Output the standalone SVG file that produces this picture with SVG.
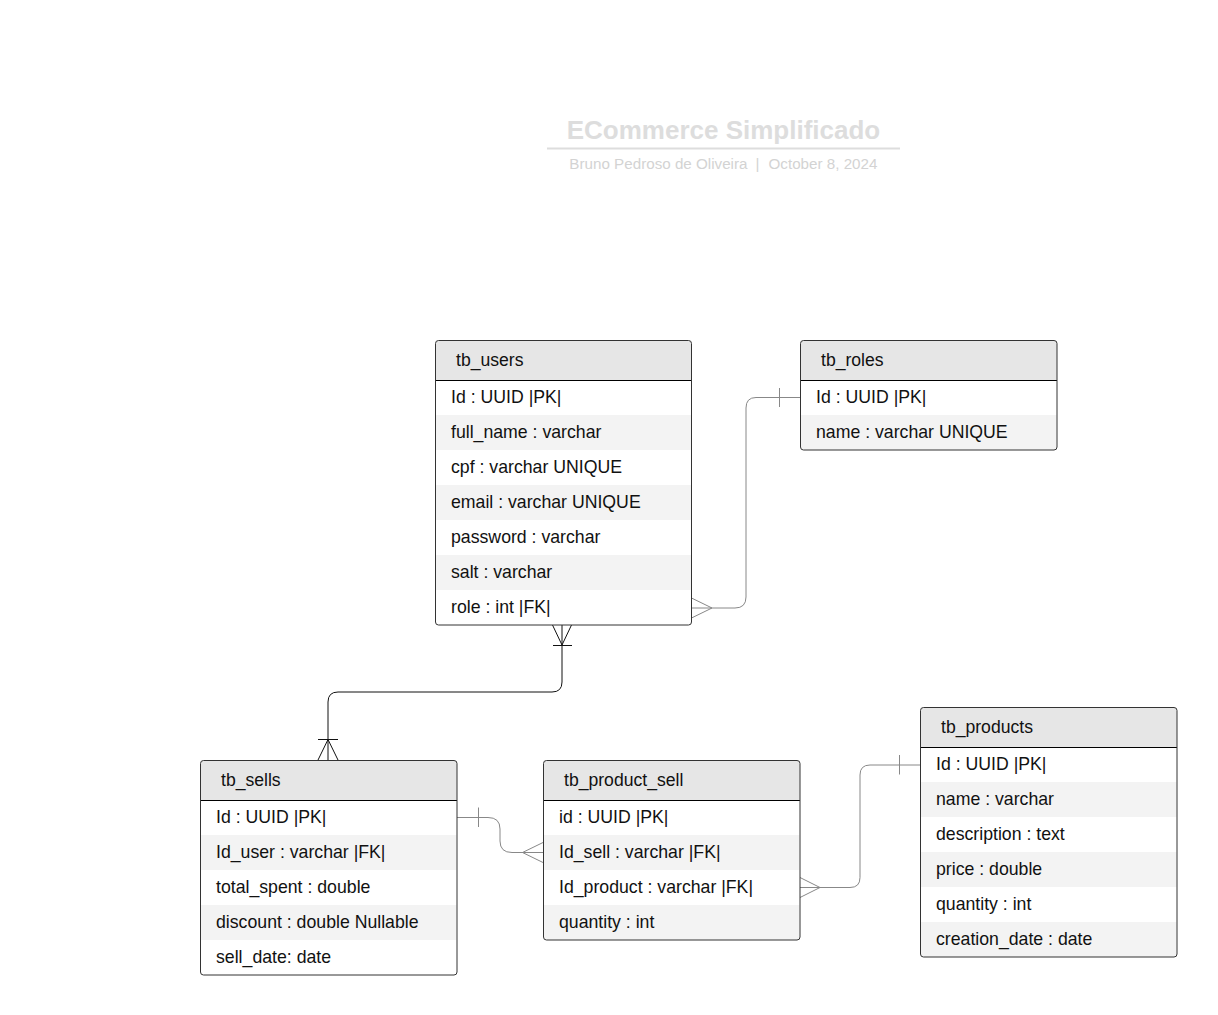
<svg xmlns="http://www.w3.org/2000/svg" width="1218" height="1015" viewBox="0 0 1218 1015">
<style>
.bg{fill:#ffffff}
.hd{fill:#e6e6e6}
.alt{fill:#f3f3f3}
.border{fill:none;stroke:#333333;stroke-width:1}
.hline{stroke:#000000;stroke-width:1}
.ht{font-family:"Liberation Sans",Arial,sans-serif;font-size:17.6px;fill:#111111}
.rt{font-family:"Liberation Sans",Arial,sans-serif;font-size:17.7px;fill:#111111}
.title{font-family:"Liberation Sans",Arial,sans-serif;font-size:26px;font-weight:bold;fill:#dddddd}
.sub{font-family:"Liberation Sans",Arial,sans-serif;font-size:15.2px;fill:#d3d3d3}
.conn{fill:none;stroke:#888888;stroke-width:1}
.connd{fill:none;stroke:#111111;stroke-width:1}
</style>
<rect x="0" y="0" width="1218" height="1015" fill="#ffffff"/>
<g id="title">
<text class="title" x="723.5" y="139" text-anchor="middle">ECommerce Simplificado</text>
<path d="M547,148.5 H900" stroke="#dddddd" stroke-width="2"/>
<text class="sub" x="747.5" y="169" text-anchor="end">Bruno Pedroso de Oliveira</text>
<text class="sub" x="757.5" y="169" text-anchor="middle">|</text>
<text class="sub" x="768.5" y="169">October 8, 2024</text>
</g>

<g id="connectors">
<!-- users.role -> roles.Id -->
<path class="conn" d="M691.5,608 H735 Q746,608 746,597 V408 Q746,397.5 756,397.5 H800.5"/>
<path class="conn" d="M691.5,598 L712,608 L691.5,618"/>
<path class="conn" d="M779.5,388 V407"/>
<!-- users -> sells -->
<path class="connd" d="M562,625 V682 Q562,692 552,692 H338 Q328,692 328,702 V760"/>
<path class="connd" d="M552.5,625 L562,645 L571.5,625"/>
<path class="connd" d="M553,645.5 H572"/>
<path class="connd" d="M318,760 L328,739.5 L338,760"/>
<path class="connd" d="M318,739.5 H338"/>
<!-- sells.Id -> product_sell.Id_sell -->
<path class="conn" d="M457,817.5 H488 Q500,817.5 500,829 V841 Q500,852.5 512,852.5 H543"/>
<path class="conn" d="M478.5,807.5 V827"/>
<path class="conn" d="M543,842.5 L522.5,852.5 L543,862.5"/>
<!-- product_sell.Id_product -> products.Id -->
<path class="conn" d="M800,887.5 H850 Q860,887.5 860,877.5 V775 Q860,765 870,765 H920.5"/>
<path class="conn" d="M899.5,755 V774.5"/>
<path class="conn" d="M800,877.5 L820,887.5 L800,897.5"/>
</g>

<g id="tb_users">
<rect class="bg" x="435.5" y="340.5" width="256" height="284.5" rx="3"/>
<path class="hd" d="M435.5,380.5 V343.5 Q435.5,340.5 438.5,340.5 H688.5 Q691.5,340.5 691.5,343.5 V380.5 Z"/>
<rect class="alt" x="436" y="415" width="255" height="35"/>
<rect class="alt" x="436" y="485" width="255" height="35"/>
<rect class="alt" x="436" y="555" width="255" height="35"/>
<path class="hline" d="M435.5,380.5 H691.5"/>
<rect class="border" x="435.5" y="340.5" width="256" height="284.5" rx="3"/>
<text class="ht" x="456" y="366">tb_users</text>
<text class="rt" x="451" y="402.5">Id : UUID |PK|</text>
<text class="rt" x="451" y="437.5">full_name : varchar</text>
<text class="rt" x="451" y="472.5">cpf : varchar UNIQUE</text>
<text class="rt" x="451" y="507.5">email : varchar UNIQUE</text>
<text class="rt" x="451" y="542.5">password : varchar</text>
<text class="rt" x="451" y="577.5">salt : varchar</text>
<text class="rt" x="451" y="612.5">role : int |FK|</text>
</g>

<g id="tb_roles">
<rect class="bg" x="800.5" y="340.5" width="256.5" height="109.5" rx="3"/>
<path class="hd" d="M800.5,380.5 V343.5 Q800.5,340.5 803.5,340.5 H1054 Q1057,340.5 1057,343.5 V380.5 Z"/>
<rect class="alt" x="801" y="415" width="255.5" height="35"/>
<path class="hline" d="M800.5,380.5 H1057"/>
<rect class="border" x="800.5" y="340.5" width="256.5" height="109.5" rx="3"/>
<text class="ht" x="821" y="366">tb_roles</text>
<text class="rt" x="816" y="402.5">Id : UUID |PK|</text>
<text class="rt" x="816" y="437.5">name : varchar UNIQUE</text>
</g>

<g id="tb_sells">
<rect class="bg" x="200.5" y="760.5" width="256.5" height="214.5" rx="3"/>
<path class="hd" d="M200.5,800.5 V763.5 Q200.5,760.5 203.5,760.5 H454 Q457,760.5 457,763.5 V800.5 Z"/>
<rect class="alt" x="201" y="835" width="255.5" height="35"/>
<rect class="alt" x="201" y="905" width="255.5" height="35"/>
<path class="hline" d="M200.5,800.5 H457"/>
<rect class="border" x="200.5" y="760.5" width="256.5" height="214.5" rx="3"/>
<text class="ht" x="221" y="786">tb_sells</text>
<text class="rt" x="216" y="822.5">Id : UUID |PK|</text>
<text class="rt" x="216" y="857.5">Id_user : varchar |FK|</text>
<text class="rt" x="216" y="892.5">total_spent : double</text>
<text class="rt" x="216" y="927.5">discount : double Nullable</text>
<text class="rt" x="216" y="962.5">sell_date: date</text>
</g>

<g id="tb_product_sell">
<rect class="bg" x="543.5" y="760.5" width="256.5" height="179.5" rx="3"/>
<path class="hd" d="M543.5,800.5 V763.5 Q543.5,760.5 546.5,760.5 H797 Q800,760.5 800,763.5 V800.5 Z"/>
<rect class="alt" x="544" y="835" width="255.5" height="35"/>
<rect class="alt" x="544" y="905" width="255.5" height="35"/>
<path class="hline" d="M543.5,800.5 H800"/>
<rect class="border" x="543.5" y="760.5" width="256.5" height="179.5" rx="3"/>
<text class="ht" x="564" y="786">tb_product_sell</text>
<text class="rt" x="559" y="822.5">id : UUID |PK|</text>
<text class="rt" x="559" y="857.5">Id_sell : varchar |FK|</text>
<text class="rt" x="559" y="892.5">Id_product : varchar |FK|</text>
<text class="rt" x="559" y="927.5">quantity : int</text>
</g>

<g id="tb_products">
<rect class="bg" x="920.5" y="707.5" width="256.5" height="249.5" rx="3"/>
<path class="hd" d="M920.5,747.5 V710.5 Q920.5,707.5 923.5,707.5 H1174 Q1177,707.5 1177,710.5 V747.5 Z"/>
<rect class="alt" x="921" y="782" width="255.5" height="35"/>
<rect class="alt" x="921" y="852" width="255.5" height="35"/>
<rect class="alt" x="921" y="922" width="255.5" height="35"/>
<path class="hline" d="M920.5,747.5 H1177"/>
<rect class="border" x="920.5" y="707.5" width="256.5" height="249.5" rx="3"/>
<text class="ht" x="941" y="733">tb_products</text>
<text class="rt" x="936" y="770">Id : UUID |PK|</text>
<text class="rt" x="936" y="805">name : varchar</text>
<text class="rt" x="936" y="840">description : text</text>
<text class="rt" x="936" y="875">price : double</text>
<text class="rt" x="936" y="910">quantity : int</text>
<text class="rt" x="936" y="945">creation_date : date</text>
</g>
</svg>
